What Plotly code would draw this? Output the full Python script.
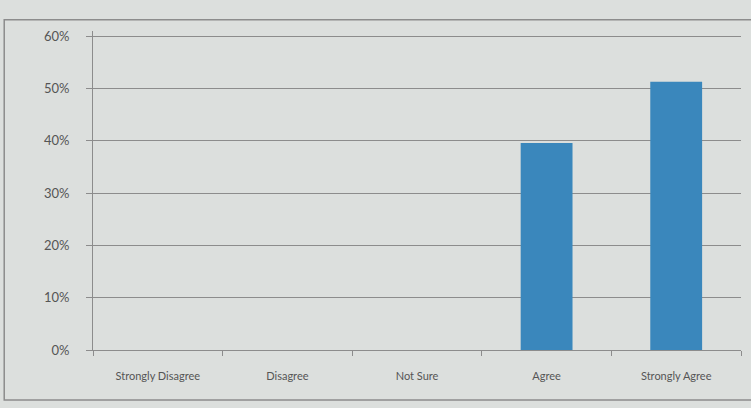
import plotly.graph_objects as go

categories = ["Strongly Disagree", "Disagree", "Not Sure", "Agree", "Strongly Agree"]
percent_values = [0, 0, 0, 39.6, 51.3]
y_ticks = [0, 10, 20, 30, 40, 50, 60]
y_tick_labels = [f"{v}%" for v in y_ticks]

fig = go.Figure()
fig.add_trace(go.Bar(x=categories, y=percent_values, marker_color="#3a87bc", marker_line_width=0, width=0.4))

fig.update_layout(
    width=751, height=408,
    margin=dict(l=93, r=10, t=31, b=58),
    paper_bgcolor="#dcdfdd", plot_bgcolor="#dcdfdd",
    font=dict(family="Lato, Open Sans, sans-serif", color="#555555"),
    showlegend=False,
    bargap=0.6,
)
fig.update_yaxes(
    range=[0, 61], tickvals=y_ticks, ticktext=y_tick_labels,
    showgrid=True, gridcolor="#8c8c8c", gridwidth=1,
    showline=True, linecolor="#8c8c8c", linewidth=1,
    ticks="outside", ticklen=6, tickcolor="#8c8c8c",
    tickfont=dict(size=13), zeroline=False, ticklabelstandoff=14,
)
fig.update_xaxes(
    showline=True, linecolor="#8c8c8c", linewidth=1,
    ticks="outside", tickson="boundaries", ticklen=5, tickcolor="#8c8c8c",
    tickfont=dict(size=11), showgrid=False, ticklabelstandoff=16,
)

# chart area border
fig.add_shape(type="rect", xref="paper", yref="paper", x0=-0.137, x1=1.05, y0=-0.157, y1=1.035,
              line=dict(color="#8c8c8c", width=1.5), layer="below")

fig.write_html("out.html", config={"displayModeBar": False},
               post_script="document.body.style.margin='0';document.body.style.background='#dcdfdd';")
